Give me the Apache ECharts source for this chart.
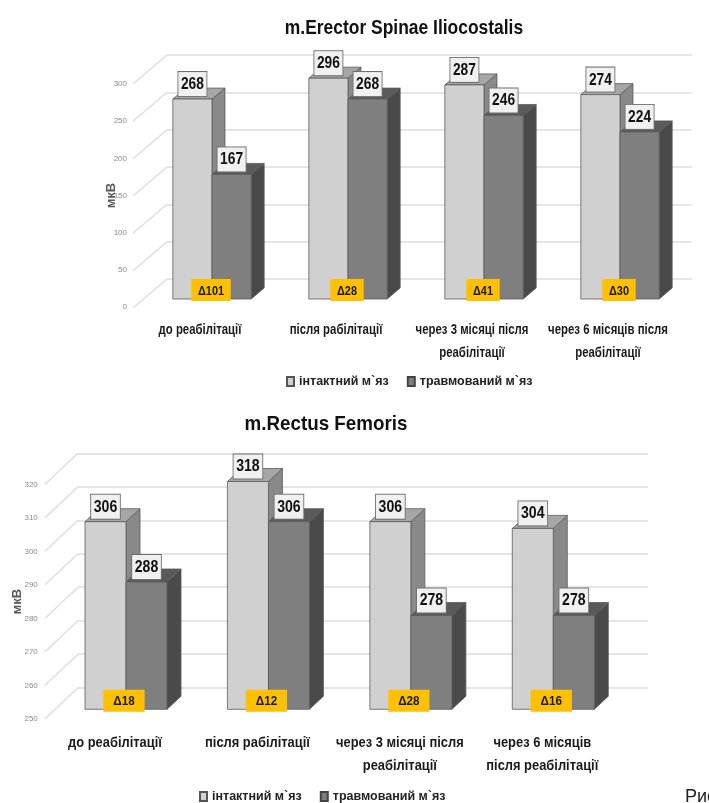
<!DOCTYPE html>
<html><head><meta charset="utf-8">
<script src="https://cdn.jsdelivr.net/npm/echarts@6/dist/echarts.min.js"></script>
<style>html,body{margin:0;padding:0;background:#fff}#c{width:709px;height:803px}</style>
</head><body><div id="c"></div>
<script>
// ---- data ----
const topTitle = 'm.Erector Spinae Iliocostalis';
const topCats = ['до реабілітації', 'після рабілітації', 'через 3 місяці після\nреабілітації', 'через 6 місяців після\nреабілітації'];
const topIntact = [268, 296, 287, 274];
const topInjured = [167, 268, 246, 224];
const topDelta = [101, 28, 41, 30];
const topTicks = [0, 50, 100, 150, 200, 250, 300];

const botTitle = 'm.Rectus Femoris';
const botCats = ['до реабілітації', 'після рабілітації', 'через 3 місяці після\nреабілітації', 'через 6 місяців\nпісля реабілітації'];
const botIntact = [306, 318, 306, 304];
const botInjured = [288, 306, 278, 278];
const botDelta = [18, 12, 28, 16];
const botTicks = [250, 260, 270, 280, 290, 300, 310, 320];

const nameIntact = 'інтактний м`яз';
const nameInjured = 'травмований м`яз';
const unitName = 'мкВ';
const figText = 'Рис.';

// ---- style ----
const FF = '"Liberation Sans", Arial, sans-serif';
const lightC = {front: '#d0d0d0', top: '#a6a6a6', side: '#898989'};
const darkC = {front: '#7f7f7f', top: '#5a5a5a', side: '#4a4a4a'};
const gridLine = '#dcdcdc';

const pairs = arr => arr.map((v, i) => [i, v]);

function barRender(colors, isLeft, dx, dy, labelFont, sx) {
  return function (params, api) {
    const ci = api.value(0), v = api.value(1);
    const c = api.coord([ci, v]);
    const cs = params.coordSys;
    const base = cs.y + cs.height;
    const band = api.size([1, 0])[0];
    const w = band * 0.288;
    const x0 = isLeft ? c[0] - w : c[0];
    const y1 = c[1];
    const st = {stroke: '#5c5c5c', lineWidth: 0.8};
    return {
      type: 'group',
      children: [
        {type: 'polygon', shape: {points: [[x0 + w, y1], [x0 + w + dx, y1 - dy], [x0 + w + dx, base - dy], [x0 + w, base]]},
          style: Object.assign({fill: colors.side}, st)},
        {type: 'polygon', shape: {points: [[x0, y1], [x0 + w, y1], [x0 + w + dx, y1 - dy], [x0 + dx, y1 - dy]]},
          style: Object.assign({fill: colors.top}, st)},
        {type: 'rect', shape: {x: x0, y: y1, width: w, height: base - y1},
          style: Object.assign({fill: colors.front}, st)},
        {type: 'text', x: x0 + w / 2, y: y1 - 3, scaleX: sx,
          style: {text: String(v), align: 'center', verticalAlign: 'bottom', font: 'bold ' + labelFont + 'px ' + FF,
            fill: '#111', backgroundColor: '#f0f0f0', borderColor: '#6f6f6f', borderWidth: 1,
            padding: [4, 3, 3, 3], lineHeight: labelFont + 1}}
      ]
    };
  };
}

function deltaRender(font, shift, padH, sx, drop) {
  return function (params, api) {
    const ci = api.value(0), d = api.value(1);
    const cs = params.coordSys;
    const base = cs.y + cs.height;
    const x = api.coord([ci, cs.y])[0] + shift;
    return {type: 'text', x: x, y: base + drop, scaleX: sx,
      style: {text: 'Δ' + d, align: 'center', verticalAlign: 'bottom', font: 'bold ' + font + 'px ' + FF,
        fill: '#1a1a1a', backgroundColor: '#ffc000', padding: [5, padH, 3, padH], lineHeight: font + 1}};
  };
}

function diagRender(ddx, ddy) {
  return function (params, api) {
    const v = api.value(1);
    const cs = params.coordSys;
    const y = api.coord([0, v])[1];
    return {type: 'line', shape: {x1: cs.x - ddx, y1: y + ddy, x2: cs.x, y2: y},
      style: {stroke: gridLine, lineWidth: 1.3}};
  };
}

function catRender(cats, gap, font, lh, sx) {
  return function (params, api) {
    const ci = api.value(0);
    const cs = params.coordSys;
    const base = cs.y + cs.height;
    const x = api.coord([ci, cs.y])[0];
    return {type: 'text', x: x, y: base + gap, scaleX: sx,
      style: {text: cats[ci], align: 'center', verticalAlign: 'top', font: 'bold ' + font + 'px ' + FF,
        lineHeight: lh, fill: '#1a1a1a'}};
  };
}

const hiddenCat = (cats, gi) => ({type: 'category', data: cats, gridIndex: gi, show: false});
const hiddenVal = (min, max, itv, gi) => ({type: 'value', min: min, max: max, interval: itv, gridIndex: gi, show: false, splitLine: {show: false}});
const legendText = {fontFamily: FF, fontWeight: 'bold', fontSize: 12.5, color: '#222'};

const option = {
  animation: false,
  backgroundColor: '#fff',
  legend: [
    {data: [nameIntact, nameInjured], left: 281, top: 370, icon: 'rect', itemWidth: 7, itemHeight: 9, itemGap: 18,
      textStyle: legendText},
    {data: [nameIntact, nameInjured], left: 194, top: 785, icon: 'rect', itemWidth: 7, itemHeight: 9, itemGap: 18,
      textStyle: legendText}
  ],
  grid: [
    {left: 144, width: 544, top: 75.2, height: 223.8},
    {left: 167, width: 525, top: 55, height: 224},
    {left: 132, width: 544, top: 84, height: 223},
    {left: 54.8, width: 569.7, top: 474.8, height: 234.5},
    {left: 78, width: 570, top: 453.3, height: 234.4},
    {left: 43.8, width: 569.7, top: 484.3, height: 234.7}
  ],
  xAxis: [
    hiddenCat(topCats, 0),
    hiddenCat(topCats, 1),
    hiddenCat(topCats, 2),
    hiddenCat(botCats, 3),
    hiddenCat(botCats, 4),
    hiddenCat(botCats, 5)
  ],
  yAxis: [
    hiddenVal(0, 300, 50, 0),
    {type: 'value', min: 0, max: 300, interval: 50, gridIndex: 1, axisLine: {show: false}, axisTick: {show: false},
      axisLabel: {show: false}, splitLine: {show: true, lineStyle: {color: gridLine, width: 1.5}}},
    {type: 'value', min: 0, max: 300, interval: 50, gridIndex: 2, axisLine: {show: false}, axisTick: {show: false},
      splitLine: {show: false}, axisLabel: {margin: 5, fontFamily: FF, fontSize: 8, color: '#8a8a8a'},
      name: unitName, nameLocation: 'middle', nameRotate: 90, nameGap: 14, nameMoveOverlap: false,
      nameTextStyle: {fontFamily: FF, fontWeight: 'bold', fontSize: 13, color: '#595959'}},
    hiddenVal(250, 320, 10, 3),
    {type: 'value', min: 250, max: 320, interval: 10, gridIndex: 4, axisLine: {show: false}, axisTick: {show: false},
      axisLabel: {show: false}, splitLine: {show: true, lineStyle: {color: gridLine, width: 1.5}}},
    {type: 'value', min: 250, max: 320, interval: 10, gridIndex: 5, axisLine: {show: false}, axisTick: {show: false},
      splitLine: {show: false}, axisLabel: {margin: 6, fontFamily: FF, fontSize: 8, color: '#8a8a8a'},
      name: unitName, nameLocation: 'middle', nameRotate: 90, nameGap: 20, nameMoveOverlap: false,
      nameTextStyle: {fontFamily: FF, fontWeight: 'bold', fontSize: 13, color: '#595959'}}
  ],
  series: [
    // top chart
    {type: 'custom', xAxisIndex: 1, yAxisIndex: 1, data: topTicks.map(v => [0, v]), renderItem: diagRender(34, 29), z: 1, silent: true, clip: false},
    {type: 'custom', xAxisIndex: 2, yAxisIndex: 2, data: topCats.map((c, i) => [i, 0]), renderItem: catRender(topCats, 11, 15, 23.5, 0.76), z: 1, silent: true, clip: false},
    {type: 'custom', name: nameIntact, xAxisIndex: 0, yAxisIndex: 0, data: pairs(topIntact), clip: false, z: 2,
      itemStyle: {color: lightC.front, borderColor: '#555', borderWidth: 1}, renderItem: barRender(lightC, true, 13, 11, 16, 0.86)},
    {type: 'custom', name: nameInjured, xAxisIndex: 0, yAxisIndex: 0, data: pairs(topInjured), clip: false, z: 3,
      itemStyle: {color: darkC.front, borderColor: '#444', borderWidth: 1}, renderItem: barRender(darkC, false, 13, 11, 16, 0.86)},
    {type: 'custom', xAxisIndex: 0, yAxisIndex: 0, data: pairs(topDelta), clip: false, z: 4, silent: true,
      renderItem: deltaRender(13, -1, 8, 0.84, 2)},
    // bottom chart
    {type: 'custom', xAxisIndex: 4, yAxisIndex: 4, data: botTicks.map(v => [0, v]), renderItem: diagRender(33, 31), z: 1, silent: true, clip: false},
    {type: 'custom', xAxisIndex: 5, yAxisIndex: 5, data: botCats.map((c, i) => [i, 250]), renderItem: catRender(botCats, 12.5, 15, 23, 0.86), z: 1, silent: true, clip: false},
    {type: 'custom', name: nameIntact, xAxisIndex: 3, yAxisIndex: 3, data: pairs(botIntact), clip: false, z: 2,
      itemStyle: {color: lightC.front, borderColor: '#555', borderWidth: 1}, renderItem: barRender(lightC, true, 14, 13, 16, 0.88)},
    {type: 'custom', name: nameInjured, xAxisIndex: 3, yAxisIndex: 3, data: pairs(botInjured), clip: false, z: 3,
      itemStyle: {color: darkC.front, borderColor: '#444', borderWidth: 1}, renderItem: barRender(darkC, false, 14, 13, 16, 0.88)},
    {type: 'custom', xAxisIndex: 3, yAxisIndex: 3, data: pairs(botDelta), clip: false, z: 4, silent: true,
      renderItem: deltaRender(13, -2, 11, 0.9, 2.4)}
  ],
  graphic: [
    {type: 'text', x: 404, y: 28, scaleX: 0.83, style: {text: topTitle, font: 'bold 21px ' + FF, fill: '#111', align: 'center', verticalAlign: 'middle'}},
    {type: 'text', x: 326, y: 424, scaleX: 0.895, style: {text: botTitle, font: 'bold 21px ' + FF, fill: '#111', align: 'center', verticalAlign: 'middle'}},
    {type: 'text', x: 685, y: 797, style: {text: figText, font: '18px ' + FF, fill: '#222', verticalAlign: 'middle'}}
  ]
};
const chart = echarts.init(document.getElementById('c'), null, {renderer: 'canvas'});
chart.setOption(option);
</script>
</body></html>
